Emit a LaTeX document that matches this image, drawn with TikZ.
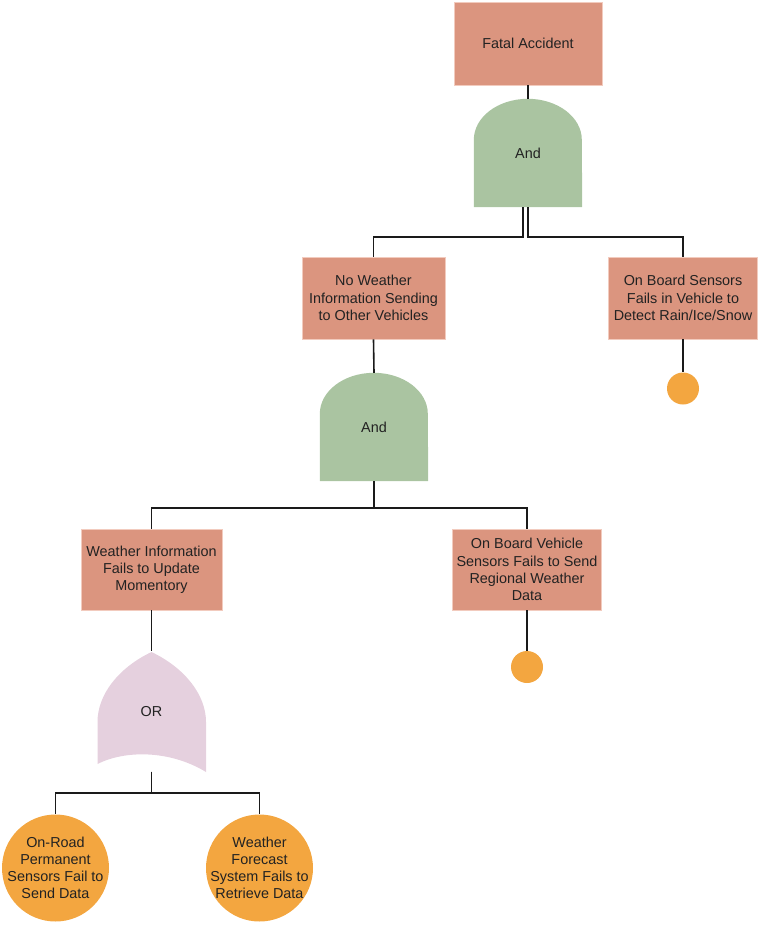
\documentclass[tikz,border=0pt]{standalone}
\usepackage{fontspec}
\setmainfont{Liberation Sans}
\usetikzlibrary{backgrounds}
\definecolor{boxfill}{HTML}{DB957F}
\definecolor{boxline}{HTML}{F2CBBE}
\definecolor{andfill}{HTML}{AAC4A1}
\definecolor{orfill}{HTML}{E5D0DE}
\definecolor{evfill}{HTML}{F3A640}
\definecolor{txt}{HTML}{222222}
\definecolor{wire}{HTML}{1A1A1A}
\tikzset{
  every node/.style={font=\fontsize{14.4}{17.2}\selectfont, text=txt, align=center, inner sep=0pt},
  eventbox/.style={rectangle, fill=boxfill, draw=boxline, line width=0.8pt},
  gatebox/.style={rectangle, minimum width=108pt},
  basic/.style={circle, fill=evfill},
  wirestyle/.style={draw=wire, line width=1.6pt}
}
\begin{document}
\begin{tikzpicture}[x=1pt,y=-1pt]
\useasboundingbox (0,0) rectangle (760,927);
% events
\node[eventbox, minimum width=148pt, minimum height=83pt] (fatal) at (528,43.5) {Fatal Accident};
\node[gatebox, minimum height=108pt] (and1) at (528,153) {And};
\node[eventbox, minimum width=143pt, minimum height=82pt] (nw) at (373.5,298) {No Weather\\Information Sending\\to Other Vehicles};
\node[eventbox, minimum width=149pt, minimum height=82pt] (ob) at (683,298) {On Board Sensors\\Fails in Vehicle to\\Detect Rain/Ice/Snow};
\node[basic, minimum size=32pt] (c1) at (683,388.5) {};
\node[gatebox, minimum height=108pt] (and2) at (374,427) {And};
\node[eventbox, minimum width=141pt, minimum height=81pt] (wi) at (151.5,569.5) {Weather Information\\Fails to Update\\Momentory};
\node[eventbox, minimum width=149pt, minimum height=81pt] (obv) at (527,569.5) {On Board Vehicle\\Sensors Fails to Send\\Regional Weather\\Data};
\node[basic, minimum size=32pt] (c2) at (527,667) {};
\node[rectangle, minimum width=109pt, minimum height=120pt] (or) at (151.5,711.5) {OR};
\node[basic, minimum size=107pt, label={[name=c3t]center:On-Road\\Permanent\\Sensors Fail to\\Send Data}] (c3) at (55.5,868) {};
\node[basic, minimum size=107pt, label={[name=c4t]center:Weather\\Forecast\\System Fails to\\Retrieve Data}] (c4) at (259.5,868) {};
% gate shapes
\begin{scope}[on background layer]
\foreach \g in {and1,and2}{
  \fill[andfill] (\g.south west) -- ([yshift=-41pt]\g.north west)
    arc[start angle=180, end angle=0, x radius=54pt, y radius=41pt]
    -- (\g.south east) -- cycle;
}
\fill[orfill] (151.5,652) .. controls (118,668) and (97.5,695) .. (97.5,722)
  -- (97.5,764) .. controls (125,750) and (170,750) .. (206,772)
  -- (206,722) .. controls (206,695) and (185,668) .. (151.5,652) -- cycle;
\end{scope}
% connectors
\draw[wirestyle] (fatal.south) -- (and1.north);
\draw[wirestyle] ([xshift=-5.3pt]and1.south) -- ++(0,30) -| (nw.north);
\draw[wirestyle] (and1.south) -- ++(0,30) -| (ob.north);
\draw[wirestyle] (nw.south) -- (and2.north);
\draw[wirestyle] (ob.south) -- (c1.north);
\draw[wirestyle] (and2.south) -- ++(0,26.5) -| (wi.north);
\draw[wirestyle] (and2.south) -- ++(0,26.5) -| (obv.north);
\draw[wirestyle] (obv.south) -- (c2.north);
\draw[wirestyle] (wi.south) -- (or.north);
\draw[wirestyle] (or.south) -- ++(0,21.5) -| (c3.north);
\draw[wirestyle] (or.south) -- ++(0,21.5) -| (c4.north);
\end{tikzpicture}
\end{document}
